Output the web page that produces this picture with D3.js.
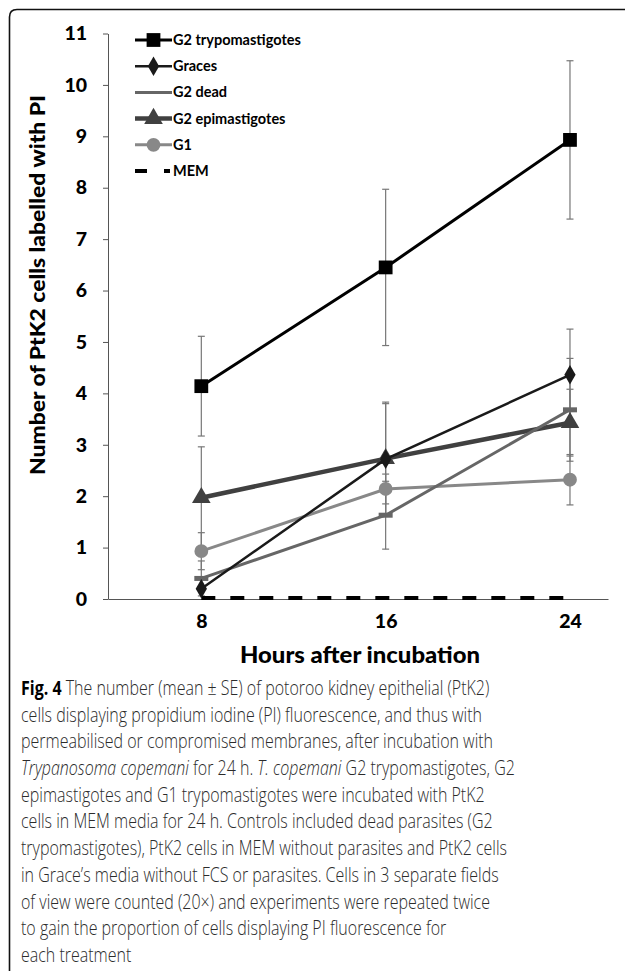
<!DOCTYPE html>
<html>
<head>
<meta charset="utf-8">
<script src="https://cdn.jsdelivr.net/npm/d3@7"></script>
<style>
  body { margin: 0; background: #fff; }
  svg { display: block; }
</style>
</head>
<body>
<div id="chart"></div>
<script>
// hours after incubation
var hours = [8, 16, 24];
var yTicks = [0, 1, 2, 3, 4, 5, 6, 7, 8, 9, 10, 11];

// series means and SE
var seriesNames = ["G2 trypomastigotes", "Graces", "G2 dead", "G2 epimastigotes", "G1", "MEM"];
var trypoMean = [4.14, 6.45, 8.93];
var trypoSE   = [0.97, 1.52, 1.54];
var gracesMean = [0.2, 2.72, 4.36];
var gracesSE   = [0.0, 1.08, 0.89];
var deadMean = [0.40, 1.63, 3.68];
var deadSE   = [0.34, 0.66, 1.00];
var epiMean = [1.97, 2.73, 3.43];
var epiSE   = [0.99, 1.10, 0.65];
var g1Mean = [0.93, 2.14, 2.32];
var g1SE   = [0.36, 0.29, 0.49];
var memMean = [0, 0, 0];
var memSE   = [0, 0, 0];

var xLabel = "Hours after incubation";
var yLabel = "Number of PtK2 cells labelled with PI";

var captionLines = [
  [["Fig. 4", "b"], [" The number (mean \u00b1 SE) of potoroo kidney epithelial (PtK2)", ""]],
  [["cells displaying propidium iodine (PI) fluorescence, and thus with", ""]],
  [["permeabilised or compromised membranes, after incubation with", ""]],
  [["Trypanosoma copemani", "i"], [" for 24 h. ", ""], ["T. copemani", "i"], [" G2 trypomastigotes, G2", ""]],
  [["epimastigotes and G1 trypomastigotes were incubated with PtK2", ""]],
  [["cells in MEM media for 24 h. Controls included dead parasites (G2", ""]],
  [["trypomastigotes), PtK2 cells in MEM without parasites and PtK2 cells", ""]],
  [["in Grace\u2019s media without FCS or parasites. Cells in 3 separate fields", ""]],
  [["of view were counted (20\u00d7) and experiments were repeated twice", ""]],
  [["to gain the proportion of cells displaying PI fluorescence for", ""]],
  [["each treatment", ""]]
];

var means = [trypoMean, gracesMean, deadMean, epiMean, g1Mean, memMean];
var errs = [trypoSE, gracesSE, deadSE, epiSE, g1SE, memSE];

var styles = [
  {color: "#000", width: 3, marker: "square", size: 190},
  {color: "#1a1a1a", width: 2.5, marker: "diamond", size: 110},
  {color: "#666", width: 3, marker: "dash", size: 0},
  {color: "#404040", width: 4.5, marker: "triangle", size: 150},
  {color: "#888", width: 3, marker: "circle", size: 150},
  {color: "#000", width: 4, marker: "none", size: 0, dash: "14,15"}
];

var series = seriesNames.map((name, i) => ({
  name: name,
  style: styles[i],
  values: hours.map((h, j) => ({h: h, v: means[i][j], e: errs[i][j]}))
}));

var width = 625, height = 971;
var font = "Lato, 'Open Sans', sans-serif";

var svg = d3.select("#chart").append("svg")
  .attr("width", width)
  .attr("height", height);

// frame around the figure (right and bottom run off the page)
svg.append("path")
  .attr("d", "M9.5,980 L9.5,17 Q9.5,9.5 17,9.5 L640,9.5")
  .attr("fill", "none")
  .attr("stroke", "#111")
  .attr("stroke-width", 1.6);

var xScale = d3.scaleLinear()
  .domain([3.95, 25.65])
  .range([108, 608]);

var yScale = d3.scaleLinear()
  .domain([0, 11])
  .range([599, 33.5]);

// y axis
var yAxis = d3.axisLeft(yScale)
  .tickValues(yTicks)
  .tickFormat(d3.format("d"))
  .tickSizeInner(5)
  .tickSizeOuter(0)
  .tickPadding(16);

var gy = svg.append("g")
  .attr("transform", `translate(${xScale.range()[0]},0)`)
  .call(yAxis);
gy.select(".domain").attr("stroke", "#555").attr("stroke-width", 1);
gy.selectAll(".tick line").attr("stroke", "#555");
gy.selectAll("text")
  .attr("font-family", font)
  .attr("font-weight", "900")
  .attr("font-size", 19.5)
  .attr("fill", "#000");

// x axis
var xAxis = d3.axisBottom(xScale)
  .tickValues(hours)
  .tickSize(0)
  .tickPadding(15);

var gx = svg.append("g")
  .attr("transform", `translate(0,${yScale(0)})`)
  .call(xAxis);
gx.select(".domain").attr("stroke", "#555").attr("stroke-width", 1);
gx.selectAll("text")
  .attr("font-family", font)
  .attr("font-weight", "900")
  .attr("font-size", 19.5)
  .attr("fill", "#000");

// axis titles
svg.append("text")
  .attr("transform", "translate(45,285) rotate(-90)")
  .attr("text-anchor", "middle")
  .attr("font-family", font)
  .attr("font-weight", "900")
  .attr("font-size", 21.5)
  .attr("textLength", 380)
  .attr("lengthAdjust", "spacingAndGlyphs")
  .text(yLabel);

svg.append("text")
  .attr("x", 360)
  .attr("y", 663)
  .attr("text-anchor", "middle")
  .attr("font-family", font)
  .attr("font-weight", "900")
  .attr("font-size", 22.5)
  .attr("textLength", 240)
  .attr("lengthAdjust", "spacingAndGlyphs")
  .text(xLabel);

// error bars
var errG = svg.append("g");
series.forEach(s => {
  s.values.filter(d => d.e > 0).forEach(d => {
    var x = xScale(d.h);
    var y0 = yScale(d.v - d.e), y1 = yScale(d.v + d.e);
    errG.append("line")
      .attr("x1", x).attr("x2", x).attr("y1", y0).attr("y2", y1)
      .attr("stroke", "#777").attr("stroke-width", 1.2);
    [y0, y1].forEach(y => {
      errG.append("line")
        .attr("x1", x - 3.5).attr("x2", x + 3.5).attr("y1", y).attr("y2", y)
        .attr("stroke", "#777").attr("stroke-width", 1.2);
    });
  });
});

var line = d3.line()
  .x(d => xScale(d.h))
  .y(d => yScale(d.v));

var symbolType = {
  square: d3.symbolSquare,
  diamond: d3.symbolDiamond,
  triangle: d3.symbolTriangle,
  circle: d3.symbolCircle
};

function drawMarker(g, st, x, y) {
  if (st.marker === "dash") {
    g.append("rect")
      .attr("x", x - 7).attr("y", y - 2.5)
      .attr("width", 14).attr("height", 5)
      .attr("fill", st.color);
  } else if (symbolType[st.marker]) {
    g.append("path")
      .attr("d", d3.symbol().type(symbolType[st.marker]).size(st.size)())
      .attr("transform", `translate(${x},${y})`)
      .attr("fill", st.color);
  }
}

// draw series in reverse so G2 trypomastigotes sits on top
series.slice().reverse().forEach(s => {
  var g = svg.append("g");
  g.append("path")
    .datum(s.values)
    .attr("d", line)
    .attr("fill", "none")
    .attr("stroke", s.style.color)
    .attr("stroke-width", s.style.width)
    .attr("stroke-dasharray", s.style.dash || null)
    .attr("transform", s.name === "MEM" ? "translate(0,-1)" : null);
  s.values.forEach(d => drawMarker(g, s.style, xScale(d.h), yScale(d.v)));
});

// legend
var legend = svg.append("g")
  .selectAll("g")
  .data(series)
  .join("g")
    .attr("transform", (d, i) => `translate(135,${40 + i * 26.2})`);

legend.each(function(s) {
  var g = d3.select(this);
  g.append("line")
    .attr("x1", 0).attr("x2", 37)
    .attr("stroke", s.style.color)
    .attr("stroke-width", s.style.width)
    .attr("stroke-dasharray", s.name === "MEM" ? "12,17,6" : null);
  if (s.style.marker !== "dash") drawMarker(g, s.style, 18.5, 0);
  g.append("text")
    .attr("x", 38)
    .attr("dy", "0.35em")
    .attr("font-family", font)
    .attr("font-weight", "bold")
    .attr("font-size", 14.5)
    .text(s.name);
});

// caption
var cap = svg.append("g")
  .attr("font-family", "'Open Sans', sans-serif")
  .attr("font-weight", 300)
  .attr("font-size", 19.5)
  .attr("fill", "#2b2b2b");

var capText = cap.selectAll("text")
  .data(captionLines)
  .join("text")
    .attr("x", 21)
    .attr("y", (d, i) => 695 + i * 26.7);

capText.selectAll("tspan")
  .data(d => d)
  .join("tspan")
    .attr("font-weight", d => d[1] === "b" ? "bold" : null)
    .attr("font-style", d => d[1] === "i" ? "italic" : null)
    .attr("fill", d => d[1] === "b" ? "#000" : null)
    .text(d => d[0]);

// squeeze caption to the width of the printed figure legend
var widest = d3.max(capText.nodes(), n => n.getComputedTextLength());
var sx = 494 / widest;
cap.attr("transform", `translate(21,0) scale(${sx},1) translate(-21,0)`);
</script>
</body>
</html>
